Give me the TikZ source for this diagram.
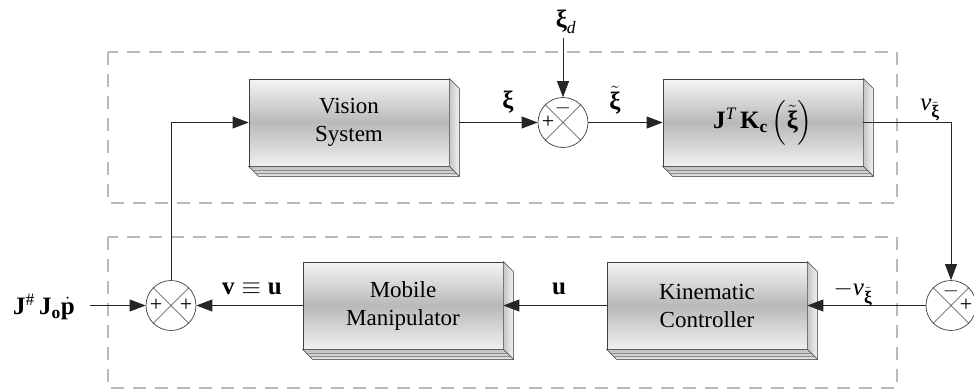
\documentclass[tikz,border=0pt]{standalone}
\usepackage{amsmath}
\usepackage{fontspec}
\setmainfont{Liberation Serif}
\usetikzlibrary{arrows.meta,calc}
\newcommand\tb[1]{\text{\bfseries #1}}
\newcommand\tii[1]{\text{\itshape #1}}
\newcommand\depthfaces[1]{%
  \filldraw[sidef] (#1.north east) -- ([shift={(10,10)}]#1.north east) -- ([shift={(10,10)}]#1.south east) -- (#1.south east) -- cycle;
  \filldraw[basef] (#1.south west) -- ([shift={(10,10)}]#1.south west) -- ([shift={(10,10)}]#1.south east) -- (#1.south east) -- cycle;
  \draw[black!45,line width=0.4pt] ([shift={(4,4)}]#1.south west) -- ([shift={(4,4)}]#1.south east);
  \draw[black!45,line width=0.4pt] ([shift={(7,7)}]#1.south west) -- ([shift={(7,7)}]#1.south east);
}
\begin{document}
\begin{tikzpicture}[x=1pt,y=-1pt,
  grp/.style={draw=gray!55, line width=1.3pt, dash pattern=on 13pt off 9pt},
  blk/.style={draw=black!75, line width=0.7pt, minimum width=200pt, minimum height=87pt, inner sep=0pt,
    top color=gray!8, bottom color=gray!12, middle color=gray!55, align=center,
    font=\fontsize{23}{28}\selectfont},
  sidef/.style={draw=black!70, line width=0.6pt, left color=gray!45, right color=gray!10},
  basef/.style={draw=black!70, line width=0.6pt, top color=gray!50, bottom color=gray!20},
  sumc/.style={circle, draw=black!75, line width=0.7pt, minimum size=50pt, inner sep=0pt, fill=white},
  sig/.style={draw=black!85, line width=0.8pt, -{Triangle[length=16pt,width=12pt]}},
  lbl/.style={font=\fontsize{25}{28}\selectfont, inner sep=0pt},
  sgn/.style={font=\fontsize{22}{22}\selectfont, inner sep=0pt}]
\useasboundingbox (0,0) rectangle (974,391);

% dashed group frames
\draw[grp] (108,52) rectangle (897,203);
\draw[grp] (108,237) rectangle (897,388);

% blocks
\node[blk] (vis) at (349,122.5) {Vision\\System};
\node[blk,font=\fontsize{25}{28}\selectfont] (jk)  at (763,122.5) {$\tb{J}^{\tii{T}}\,\tb{K}_{\tb{c}}\left(\tilde{\tb{ξ}}\right)$};
\node[blk] (mob) at (403,305.5) {Mobile\\Manipulator};
\node[blk] (kin) at (707,305.5) {Kinematic\\Controller};
\depthfaces{vis}
\depthfaces{jk}
\depthfaces{mob}
\depthfaces{kin}

% summing junctions
\node[sumc] (s1) at (563,122.5) {};
\node[sumc] (s2) at (171,305.5) {};
\node[sumc] (s3) at (951,305.5) {};
\foreach \s in {s1,s2,s3}{
  \draw[black!75,line width=0.6pt] (\s.north west) -- (\s.south east);
  \draw[black!75,line width=0.6pt] (\s.north east) -- (\s.south west);
}
\node[sgn] at ([xshift=-15pt]s1.center) {+};
\node[sgn] at ([yshift=14pt]s1.center) {$-$};
\node[sgn] at ([xshift=-15pt]s2.center) {+};
\node[sgn] at ([xshift=15pt]s2.center) {+};
\node[sgn] at ([yshift=14pt]s3.center) {$-$};
\node[sgn] at ([xshift=15pt]s3.center) {+};

% free ends
\coordinate (xd) at (563,38);
\coordinate (in) at (90,305.5);

% connectors
\draw[sig] (xd) -- (s1.north);
\draw[sig] ([xshift=10pt]vis.east) -- (s1.west);
\draw[sig] (s1.east) -- (jk.west);
\draw[sig] (jk.east) -| (s3.north);
\draw[sig] (s3.west) -- (kin.east);
\draw[sig] (kin.west) -- (mob.east);
\draw[sig] (mob.west) -- (s2.east);
\draw[sig] (in) -- (s2.west);
\draw[sig] (s2.north) |- (vis.west);

% labels
\node[lbl] (lxd) at (566,22) {$\tb{ξ}_{\tii{d}}$};
\node[lbl] (lxi) at (508,102) {$\tb{ξ}$};
\node[lbl] (lxt) at (615,100) {$\tilde{\tb{ξ}}$};
\node[lbl] (lnu) at (930,110) {$\tii{ν}_{\tilde{\tb{ξ}}}$};
\node[lbl] (lmnu) at (853,294) {$-\tii{ν}_{\tilde{\tb{ξ}}}$};
\node[lbl] (lu) at (559,289) {$\tb{u}$};
\node[lbl] (lvu) at (252,289) {$\tb{v}\equiv\tb{u}$};
\node[lbl] (lin) at (44,307) {$\tb{J}^{\text{\#}}\,\tb{J}_{\tb{o}}\dot{\tb{p}}$};
\end{tikzpicture}
\end{document}
